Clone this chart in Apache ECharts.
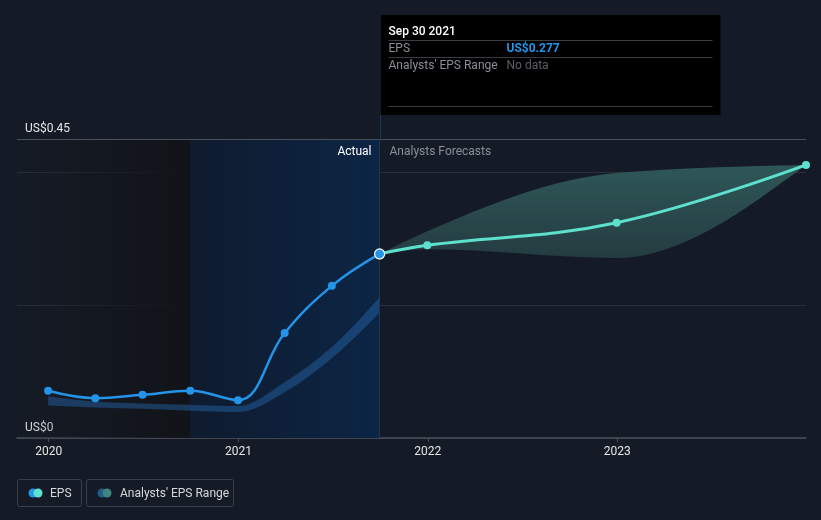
<!DOCTYPE html>
<html lang="en">
<head>
    <meta charset="UTF-8">
    <title>EPS</title>
    <style>
        html, body { margin: 0; padding: 0; background: #151b26; }
        #main { width: 821px; height: 520px; }
    </style>
</head>
<body>
<div id="main"></div>
<script src="https://cdn.jsdelivr.net/npm/echarts@6/dist/echarts.min.js"></script>
<script>
    const chart = echarts.init(document.getElementById('main'));

    // actual EPS (quarterly)
    const actualDates = ['2019-12-31', '2020-03-31', '2020-06-30', '2020-09-30', '2020-12-31', '2021-03-31', '2021-06-30', '2021-09-30'];
    const actualEps = [0.071, 0.060, 0.065, 0.071, 0.057, 0.158, 0.229, 0.277];

    // past analysts range
    const pastLow = [0.049, 0.046, 0.044, 0.041, 0.039, 0.069, 0.120, 0.189];
    const pastHigh = [0.063, 0.055, 0.052, 0.050, 0.048, 0.084, 0.137, 0.212];

    // forecast
    const forecastDates = ['2021-09-30', '2021-12-31', '2022-12-31', '2023-12-31'];
    const forecastEps = [0.277, 0.290, 0.324, 0.411];
    const forecastLow = [0.277, 0.284, 0.271, 0.411];
    const forecastHigh = [0.277, 0.311, 0.399, 0.411];

    const yearTicks = ['2020-01-01', '2021-01-01', '2022-01-01', '2023-01-01'];
    const xMin = '2019-11-01';
    const xMax = '2023-12-31';
    const actualStart = '2020-09-30';
    const today = '2021-09-30';

    const ts = d => new Date(d + 'T00:00:00Z').getTime();
    const pairs = (dates, vals) => dates.map((d, i) => [ts(d), vals[i]]);

    const blue = '#2394e8';
    const teal = '#5de0cd';
    const font = 'Roboto, "Noto Sans", sans-serif';

    // monotone-x cubic segments through pixel points
    function monoSegs(pts) {
        const n = pts.length;
        const h = [], s = [];
        for (let i = 0; i < n - 1; i++) {
            h.push(pts[i + 1][0] - pts[i][0]);
            s.push((pts[i + 1][1] - pts[i][1]) / h[i]);
        }
        const t = new Array(n).fill(0);
        for (let i = 1; i < n - 1; i++) {
            const s0 = s[i - 1], s1 = s[i];
            if (s0 * s1 <= 0) { t[i] = 0; continue; }
            const p = (s0 * h[i] + s1 * h[i - 1]) / (h[i - 1] + h[i]);
            t[i] = (Math.sign(s0) + Math.sign(s1)) * Math.min(Math.abs(s0), Math.abs(s1), 0.5 * Math.abs(p));
        }
        if (n > 2) {
            t[0] = (3 * s[0] - t[1]) / 2;
            t[n - 1] = (3 * s[n - 2] - t[n - 2]) / 2;
        } else {
            t[0] = t[n - 1] = s[0];
        }
        const segs = [];
        for (let i = 0; i < n - 1; i++) {
            const dx = h[i] / 3;
            segs.push([pts[i], [pts[i][0] + dx, pts[i][1] + dx * t[i]], [pts[i + 1][0] - dx, pts[i + 1][1] - dx * t[i + 1]], pts[i + 1]]);
        }
        return segs;
    }

    function bandPath(up, dn) {
        const c = p => p[0].toFixed(2) + ',' + p[1].toFixed(2);
        let d = 'M' + c(up[0]);
        monoSegs(up).forEach(g => { d += 'C' + c(g[1]) + ' ' + c(g[2]) + ' ' + c(g[3]); });
        d += 'L' + c(dn[dn.length - 1]);
        monoSegs(dn).reverse().forEach(g => { d += 'C' + c(g[2]) + ' ' + c(g[1]) + ' ' + c(g[0]); });
        return d + 'Z';
    }

    function bandSeries(dates, lo, hi, fill) {
        return {
            type: 'custom',
            data: [[ts(dates[0]), lo[0]]],
            z: 2,
            silent: true,
            renderItem: (params, api) => {
                const up = dates.map((d, i) => api.coord([ts(d), hi[i]]));
                const dn = dates.map((d, i) => api.coord([ts(d), lo[i]]));
                return {
                    type: 'path',
                    shape: { pathData: bandPath(up, dn) },
                    style: { fill: fill, stroke: 'none' }
                };
            }
        };
    }

    const option = {
        backgroundColor: '#151b26',
        animation: false,
        textStyle: { fontFamily: font },
        grid: { left: 17, right: 15, top: 139, bottom: 82 },
        xAxis: {
            type: 'value',
            min: ts(xMin),
            max: ts(xMax),
            axisLine: { lineStyle: { color: '#4a4f59', width: 1.5 } },
            axisTick: { show: true, length: 4, lineStyle: { color: '#4a4f59' }, customValues: yearTicks.map(ts) },
            axisLabel: {
                color: '#e6e6e6', fontSize: 12, margin: 8,
                customValues: yearTicks.map(ts),
                formatter: v => String(new Date(v + 86400000).getUTCFullYear())
            },
            splitLine: { show: false }
        },
        yAxis: {
            type: 'value',
            min: 0,
            max: 0.45,
            interval: 0.2,
            axisLine: { show: false },
            axisTick: { show: false },
            axisLabel: {
                inside: true, margin: 8, color: '#e6e6e6', fontSize: 12,
                verticalAlign: 'bottom', padding: [0, 0, 4, 0],
                formatter: v => (v === 0 ? 'US$0' : (Math.abs(v - 0.45) < 1e-9 ? 'US$0.45' : ''))
            },
            splitLine: { lineStyle: { color: '#2a303a', width: 1 } }
        },
        series: [
            {
                name: 'shading',
                type: 'line',
                data: [],
                markArea: {
                    silent: true,
                    data: [
                        [{
                            xAxis: ts(xMin),
                            itemStyle: {
                                color: new echarts.graphic.LinearGradient(0, 0, 1, 0, [
                                    { offset: 0, color: 'rgba(17,19,24,0)' },
                                    { offset: 1, color: 'rgba(17,19,24,1)' }
                                ])
                            }
                        }, { xAxis: ts(actualStart) }],
                        [{
                            xAxis: ts(actualStart),
                            itemStyle: {
                                color: new echarts.graphic.LinearGradient(0, 0, 1, 0, [
                                    { offset: 0, color: '#0f1b2e' },
                                    { offset: 1, color: '#0c2545' }
                                ])
                            }
                        }, { xAxis: ts(today) }]
                    ]
                },
                markLine: {
                    silent: true,
                    symbol: 'none',
                    label: { show: false },
                    data: [
                        { yAxis: 0.45, lineStyle: { color: '#4a4f59', width: 1, type: 'solid' } },
                        { xAxis: ts(today), lineStyle: { color: '#1d3658', width: 1, type: 'solid' } }
                    ]
                },
                z: 1
            },
            bandSeries(actualDates, pastLow, pastHigh, 'rgba(38,105,175,0.45)'),
            bandSeries(forecastDates, forecastLow, forecastHigh, new echarts.graphic.LinearGradient(0, 0, 0, 1, [
                { offset: 0, color: '#2f5757' },
                { offset: 1, color: '#243c41' }
            ])),
            {
                name: 'EPS forecast',
                type: 'line',
                data: pairs(forecastDates, forecastEps),
                smooth: 0.4,
                symbol: 'circle',
                symbolSize: 8,
                showSymbol: true,
                itemStyle: { color: teal },
                lineStyle: { color: teal, width: 3 },
                z: 4
            },
            {
                name: 'EPS',
                type: 'line',
                data: pairs(actualDates, actualEps).map((p, i, arr) => i === arr.length - 1
                    ? { value: p, symbolSize: 10, itemStyle: { color: blue, borderColor: '#ffffff', borderWidth: 1.2 } }
                    : p),
                smooth: 0.4,
                symbol: 'circle',
                symbolSize: 8,
                itemStyle: { color: blue },
                lineStyle: { color: blue, width: 2.5 },
                z: 5
            }
        ]
    };

    chart.setOption(option);

    // overlays placed from axis positions
    const lineX = Math.round(chart.convertToPixel({ xAxisIndex: 0 }, ts(today))) + 0.5;
    const topY = chart.convertToPixel({ yAxisIndex: 0 }, 0.45);
    const boxW = 340;
    const grey = '#8a8f98';

    chart.setOption({
        graphic: [
            // vertical marker above grid
            { type: 'line', shape: { x1: lineX, y1: 15, x2: lineX, y2: topY }, style: { stroke: '#1d3658', lineWidth: 1 }, z: 10 },
            // tooltip box
            { type: 'rect', shape: { x: lineX, y: 15, width: boxW, height: 100 }, style: { fill: '#000000' }, z: 11 },
            { type: 'text', x: lineX + 8, y: 32, style: { text: 'Sep 30 2021', fill: '#ffffff', font: '500 12px ' + font, verticalAlign: 'middle' }, z: 12 },
            { type: 'line', shape: { x1: lineX + 8, y1: 40.5, x2: lineX + boxW - 8, y2: 40.5 }, style: { stroke: '#3a3d42', lineWidth: 1 }, z: 12 },
            { type: 'text', x: lineX + 8, y: 49, style: { text: 'EPS', fill: grey, font: '12px ' + font, verticalAlign: 'middle' }, z: 12 },
            { type: 'text', x: lineX + 126, y: 49, style: { text: 'US$0.277', fill: '#2394e8', font: 'bold 12px ' + font, verticalAlign: 'middle' }, z: 12 },
            { type: 'line', shape: { x1: lineX + 8, y1: 57.5, x2: lineX + boxW - 8, y2: 57.5 }, style: { stroke: '#3a3d42', lineWidth: 1 }, z: 12 },
            { type: 'text', x: lineX + 8, y: 66, style: { text: "Analysts' EPS Range", fill: grey, font: '12px ' + font, verticalAlign: 'middle' }, z: 12 },
            { type: 'text', x: lineX + 126, y: 66, style: { text: 'No data', fill: '#5a5e66', font: '12px ' + font, verticalAlign: 'middle' }, z: 12 },
            { type: 'line', shape: { x1: lineX + 8, y1: 106.5, x2: lineX + boxW - 8, y2: 106.5 }, style: { stroke: '#3a3d42', lineWidth: 1 }, z: 12 },
            // section labels
            { type: 'text', x: lineX - 9, y: 152, style: { text: 'Actual', fill: '#ffffff', font: '12px ' + font, align: 'right', verticalAlign: 'middle' }, z: 10 },
            { type: 'text', x: lineX + 9, y: 152, style: { text: 'Analysts Forecasts', fill: grey, font: '12px ' + font, verticalAlign: 'middle' }, z: 10 },
            // legend
            { type: 'rect', shape: { x: 17.5, y: 479.5, width: 64, height: 27, r: 2 }, style: { fill: 'none', stroke: '#3a3f4a', lineWidth: 1 }, z: 10 },
            { type: 'circle', shape: { cx: 33, cy: 493, r: 4.5 }, style: { fill: blue }, z: 10 },
            { type: 'circle', shape: { cx: 38, cy: 493, r: 4.5 }, style: { fill: teal }, z: 11 },
            { type: 'text', x: 50, y: 494, style: { text: 'EPS', fill: '#d8d8d8', font: '12px ' + font, verticalAlign: 'middle' }, z: 10 },
            { type: 'rect', shape: { x: 86.5, y: 479.5, width: 147, height: 27, r: 2 }, style: { fill: 'none', stroke: '#3a3f4a', lineWidth: 1 }, z: 10 },
            { type: 'circle', shape: { cx: 102, cy: 493, r: 4.5 }, style: { fill: '#235a8a' }, z: 10 },
            { type: 'circle', shape: { cx: 107, cy: 493, r: 4.5 }, style: { fill: '#3f8580' }, z: 11 },
            { type: 'text', x: 120, y: 494, style: { text: "Analysts' EPS Range", fill: '#d8d8d8', font: '12px ' + font, verticalAlign: 'middle' }, z: 10 }
        ]
    });
</script>
</body>
</html>
